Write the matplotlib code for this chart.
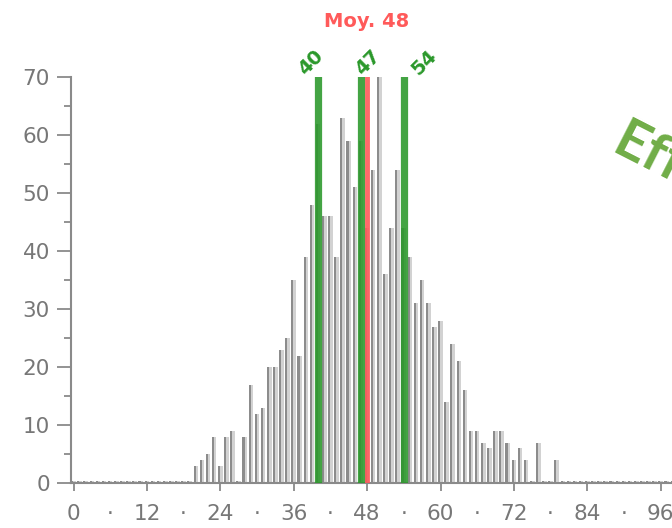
import numpy as np
import matplotlib
matplotlib.use('Agg')
import matplotlib.pyplot as plt
from matplotlib.ticker import FixedLocator, FixedFormatter, MultipleLocator
from matplotlib.transforms import blended_transform_factory

plt.rcParams['font.family'] = ['DejaVu Sans']

# histogram counts, one bin per integer value 0..100
bins = np.arange(0, 101)
counts = np.zeros(101)
counts[20:80] = [3, 4, 5, 8, 3, 8, 9, 0, 8, 17,
                 12, 13, 20, 20, 23, 25, 35, 22, 39, 48,
                 62, 46, 46, 39, 63, 59, 51, 59, 44, 54,
                 70, 36, 44, 54, 44, 39, 31, 35, 31, 27,
                 28, 14, 24, 21, 16, 9, 9, 7, 6, 9,
                 9, 7, 4, 6, 4, 0, 7, 0, 0, 4]

# markers (quartiles / median) and mean
marker_vals = [40, 47, 54]
marker_labels = ['40', '47', '54']
label_shift = [-1.3, 1.1, 3.3]
mean_val = 48
mean_label = 'Moy. 48'

x_major = np.arange(0, 97, 12)
x_minor = np.arange(6, 97, 12)

gray_axis = '#8a8a8a'
green = '#2a982a'
red = '#ff5a5a'

fig = plt.figure(figsize=(6.72, 5.28), dpi=100)
ax = fig.add_axes([0.1052, 0.0847, 0.9144, 0.7689])

# zero bins still show as a small stub
stub = 0.35
heights = np.maximum(counts, stub)
# light body with a darker left stroke
ax.bar(bins - 0.38, heights, width=0.75, align='edge', color='#d2d2d2', zorder=2)
ax.bar(bins - 0.38, heights, width=0.34, align='edge', color='#8c8c8c', zorder=2)

for v in marker_vals:
    ax.axvline(v, color=green, lw=5.2, alpha=0.88, zorder=3)
ax.axvline(mean_val, color=red, lw=3.5, alpha=0.9, zorder=3)

ax.set_xlim(-0.46, 100)
ax.set_ylim(0, 70)

for s in ['top', 'right']:
    ax.spines[s].set_visible(False)
for s in ['left', 'bottom']:
    ax.spines[s].set_color(gray_axis)
    ax.spines[s].set_linewidth(1.5)

ax.yaxis.set_major_locator(MultipleLocator(10))
ax.yaxis.set_minor_locator(MultipleLocator(5))
ax.tick_params(axis='y', which='major', length=10, width=1.3, color=gray_axis,
               labelcolor='#777777', labelsize=15.5, pad=5)
ax.tick_params(axis='y', which='minor', length=5, width=1.3, color=gray_axis)

ax.xaxis.set_major_locator(FixedLocator(x_major))
ax.xaxis.set_minor_locator(FixedLocator(x_minor))
ax.xaxis.set_minor_formatter(FixedFormatter(['·'] * len(x_minor)))
ax.tick_params(axis='x', which='major', length=6, width=1.3, color=gray_axis,
               labelcolor='#777777', labelsize=15.5, pad=9)
ax.tick_params(axis='x', which='minor', length=0, labelcolor='#777777',
               labelsize=15.5, pad=15)

trans = blended_transform_factory(ax.transData, fig.transFigure)
ax.text(mean_val, 0.959, mean_label, transform=trans, ha='center', va='center',
        color=red, fontsize=14, fontweight='bold')
for v, lab, dx in zip(marker_vals, marker_labels, label_shift):
    ax.text(v + dx, 0.882, lab, transform=trans, ha='center', va='center',
            rotation=45, color=green, fontsize=14, fontweight='bold')

fig.text(610 / 672, 1 - 152 / 528, 'Efficacité', rotation=-27, rotation_mode='anchor',
         ha='left', va='baseline', color='#70ad47', fontsize=40, fontweight='bold',
         family='Lato')

fig.savefig('out.png', dpi=100)
